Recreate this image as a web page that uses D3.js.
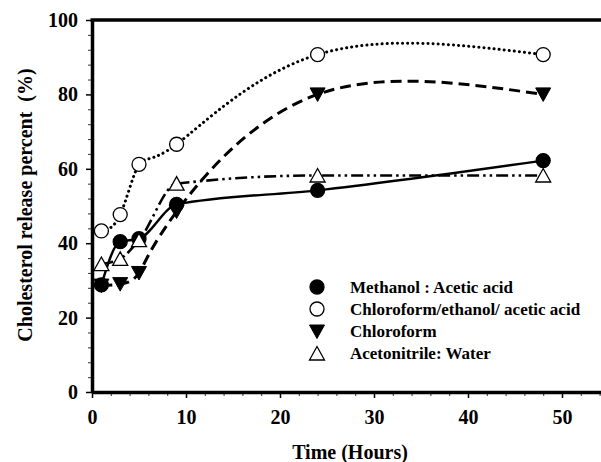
<!DOCTYPE html>
<html><head><meta charset="utf-8">
<script src="https://cdn.jsdelivr.net/npm/d3@7"></script>
<style>body{margin:0;background:#fff}svg{display:block}text{font-family:"Liberation Serif","Times New Roman",serif;font-weight:bold;fill:#000;white-space:pre}</style>
</head><body><div id="chart"></div>
<script>
const hours = [1, 3, 5, 9, 24, 48];
const methanol = [28.8, 40.4, 41.2, 50.4, 54.2, 62.2];
const chlEthAcetic = [43.3, 47.7, 61.2, 66.6, 90.7, 90.7];
const chloroform = [28.6, 29.0, 32.0, 48.5, 80.0, 80.0];
const acetonitrile = [34.4, 35.8, 40.8, 56.0, 58.2, 58.2];
const seriesNames = ["Methanol : Acetic acid", "Chloroform/ethanol/ acetic acid", "Chloroform", "Acetonitrile: Water"];
const xTicks = [0, 10, 20, 30, 40, 50];
const yTicks = [0, 20, 40, 60, 80, 100];

const W = 601, H = 462;
const svg = d3.select("#chart").append("svg").attr("width", W).attr("height", H);
const x = d3.scaleLinear().domain([0, 54.15]).range([92, 601]);
const y = d3.scaleLinear().domain([0, 100]).range([392, 20]);

// minor ticks
const xMinor = d3.range(0, 55, 2).filter(v => v % 10 !== 0);
const yMinor = d3.range(0, 100, 4).filter(v => v % 20 !== 0);
svg.append("g").attr("transform", "translate(0,392)")
  .call(d3.axisBottom(x).tickValues(xMinor).tickSize(4).tickFormat(""))
  .call(g => g.select(".domain").remove())
  .call(g => g.selectAll("line").attr("stroke-width", 1.1).attr("stroke", "#444"));
svg.append("g").attr("transform", "translate(92,0)")
  .call(d3.axisLeft(y).tickValues(yMinor).tickSize(4).tickFormat(""))
  .call(g => g.select(".domain").remove())
  .call(g => g.selectAll("line").attr("stroke-width", 1.1).attr("stroke", "#444"));

// major axes
const xAxis = svg.append("g").attr("transform", "translate(0,392)")
  .call(d3.axisBottom(x).tickValues(xTicks).tickSize(6).tickPadding(12).tickSizeOuter(0));
xAxis.select(".domain").attr("stroke-width", 3.5);
xAxis.selectAll("line").attr("stroke-width", 1.5);
xAxis.selectAll("text").style("font-size", "20px").style("font-family", "Liberation Serif").style("font-weight", "bold");

const yAxis = svg.append("g").attr("transform", "translate(92,0)")
  .call(d3.axisLeft(y).tickValues(yTicks).tickSize(6).tickPadding(8).tickSizeOuter(0));
yAxis.select(".domain").attr("stroke-width", 3.5);
yAxis.selectAll("line").attr("stroke-width", 1.5);
yAxis.selectAll("text").style("font-size", "20px").style("font-family", "Liberation Serif").style("font-weight", "bold");

// top border
svg.append("line").attr("x1", x(0) - 1.5).attr("x2", W).attr("y1", y(100)).attr("y2", y(100))
  .attr("stroke", "#000").attr("stroke-width", 3.5);

// series
const series = [
  {vals: methanol, curve: d3.curveMonotoneX, dash: null, cap: "butt", sym: "circle", fill: "#000", w: 2.4},
  {vals: chlEthAcetic, curve: d3.curveNatural, dash: "0.1,5", cap: "round", sym: "circle", fill: "#fff", w: 3},
  {vals: chloroform, curve: d3.curveNatural, dash: "11,6", cap: "butt", sym: "down", fill: "#000", w: 3},
  {vals: acetonitrile, curve: d3.curveMonotoneX, dash: "12,4,2.5,4,2.5,4", cap: "butt", sym: "up", fill: "#fff", w: 2.6}
];

function drawSym(g, s, px, py) {
  if (s.sym === "circle") {
    g.append("circle").attr("cx", px).attr("cy", py).attr("r", 7)
      .attr("fill", s.fill).attr("stroke", "#000").attr("stroke-width", 1.3);
  } else if (s.sym === "down") {
    g.append("path").attr("d", `M${px-7.5},${py-6.5}L${px+7.5},${py-6.5}L${px},${py+7}Z`)
      .attr("fill", "#000").attr("stroke", "#000").attr("stroke-width", 1);
  } else {
    g.append("path").attr("d", `M${px-7.5},${py+6.5}L${px+7.5},${py+6.5}L${px},${py-7}Z`)
      .attr("fill", "#fff").attr("stroke", "#000").attr("stroke-width", 1.3);
  }
}

const lineG = svg.append("g");
series.forEach(s => {
  const pts = hours.map((h, i) => [h, s.vals[i]]);
  const line = d3.line().x(d => x(d[0])).y(d => y(d[1])).curve(s.curve);
  lineG.append("path").attr("d", line(pts)).attr("fill", "none").attr("stroke", "#000")
    .attr("stroke-width", s.w).attr("stroke-dasharray", s.dash).attr("stroke-linecap", s.cap);
});
const symG = svg.append("g");
series.forEach(s => {
  hours.forEach((h, i) => drawSym(symG, s, x(h), y(s.vals[i])));
});

// legend
const leg = svg.append("g");
const legY = [287, 309, 331.5, 353.5];
series.forEach((s, i) => {
  drawSym(leg, s, 317, legY[i]);
  leg.append("text").attr("x", 350).attr("y", legY[i] + 5.5).style("font-size", "17px").text(seriesNames[i]);
});

// axis titles
svg.append("text").attr("x", 350).attr("y", 459).attr("text-anchor", "middle").style("font-size", "20px").text("Time (Hours)");
svg.append("text").attr("transform", "translate(32,205) rotate(-90)").attr("text-anchor", "middle")
  .attr("xml:space", "preserve").style("font-size", "20px").text("Cholesterol release percent  (%)");
</script></body></html>
